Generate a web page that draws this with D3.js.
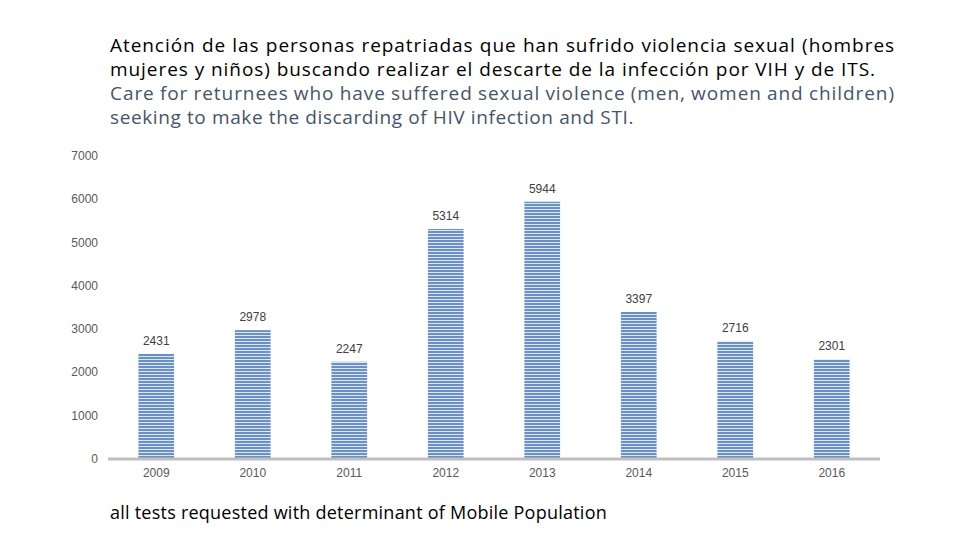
<!DOCTYPE html>
<html><head><meta charset="utf-8">
<script src="https://cdn.jsdelivr.net/npm/d3@7"></script>
<style>body{margin:0;background:#fff}svg{display:block}</style>
</head><body>
<svg id="c" width="960" height="540"></svg>
<script>
const years = ["2009","2010","2011","2012","2013","2014","2015","2016"];
const values = [2431, 2978, 2247, 5314, 5944, 3397, 2716, 2301];
const yTicks = [0,1000,2000,3000,4000,5000,6000,7000];
const titleLines = [
  "Atención de las personas repatriadas que han sufrido violencia sexual (hombres",
  "mujeres y niños) buscando realizar el descarte de la infección por VIH y de ITS.",
  "Care for returnees who have suffered sexual violence (men, women and children)",
  "seeking to make the discarding of HIV infection and STI."
];
const footnote = "all tests requested with determinant of Mobile Population";

const svg = d3.select("#c");
const defs = svg.append("defs");
const pat = defs.append("pattern").attr("id","stripes").attr("patternUnits","userSpaceOnUse")
  .attr("width",4).attr("height",3);
pat.append("rect").attr("width",4).attr("height",3).attr("fill","#dbe5f3");
pat.append("rect").attr("width",4).attr("height",2).attr("fill","#6a90c4");

const x = d3.scaleBand().domain(years).range([108,880]).paddingInner(0.63).paddingOuter(0.315);
const y = d3.scaleLinear().domain([0,7000]).range([459,156]);

svg.append("g").selectAll("text").data(yTicks).join("text")
  .attr("x",98).attr("y",d=>y(d)+4).attr("text-anchor","end")
  .attr("font-family","Liberation Sans, Arial, sans-serif").attr("font-size",12)
  .attr("fill","#595959").text(d=>d);

svg.append("g").selectAll("rect").data(values).join("rect")
  .attr("x",(d,i)=>x(years[i])).attr("width",x.bandwidth())
  .attr("y",d=>y(d)).attr("height",d=>y(0)-y(d))
  .attr("fill","url(#stripes)");

svg.append("g").selectAll("text").data(values).join("text")
  .attr("x",(d,i)=>x(years[i])+x.bandwidth()/2).attr("y",d=>y(d)-9)
  .attr("text-anchor","middle")
  .attr("font-family","Liberation Sans, Arial, sans-serif").attr("font-size",12)
  .attr("fill","#404040").text(d=>d);

svg.append("line").attr("x1",108).attr("x2",880).attr("y1",y(0)).attr("y2",y(0))
  .attr("stroke","#bfbfbf").attr("stroke-width",3);

svg.append("g").selectAll("text").data(years).join("text")
  .attr("x",d=>x(d)+x.bandwidth()/2).attr("y",477).attr("text-anchor","middle")
  .attr("font-family","Liberation Sans, Arial, sans-serif").attr("font-size",12)
  .attr("fill","#595959").text(d=>d);

const targets = [785, 766, 785, 524];
const tl = svg.append("g").selectAll("text").data(titleLines).join("text")
  .attr("x",110).attr("y",(d,i)=>52+i*24)
  .attr("font-family","Open Sans, sans-serif").attr("font-size",19)
  .attr("fill",(d,i)=>i<2?"#000":"#44546a").text(d=>d);
let ls = 0;
tl.each(function(d,i){
  if(i===1||i===3){
    const w = this.getComputedTextLength();
    const s = (targets[i]-w)/d.length;
    d3.select(this).attr("letter-spacing",s);
    if(i===1) ls = s;
  }
});
tl.each(function(d,i){
  if(i===0||i===2){
    d3.select(this).attr("letter-spacing",ls);
    const w = this.getComputedTextLength();
    const n = d.split(" ").length-1;
    d3.select(this).attr("word-spacing",(targets[i]-w)/n);
  }
});

const fn = svg.append("text").attr("x",110).attr("y",519)
  .attr("font-family","Open Sans, sans-serif").attr("font-size",18)
  .attr("fill","#000").text(footnote);
const fw = fn.node().getComputedTextLength();
fn.attr("letter-spacing",(497-fw)/footnote.length);
</script>
</body></html>
